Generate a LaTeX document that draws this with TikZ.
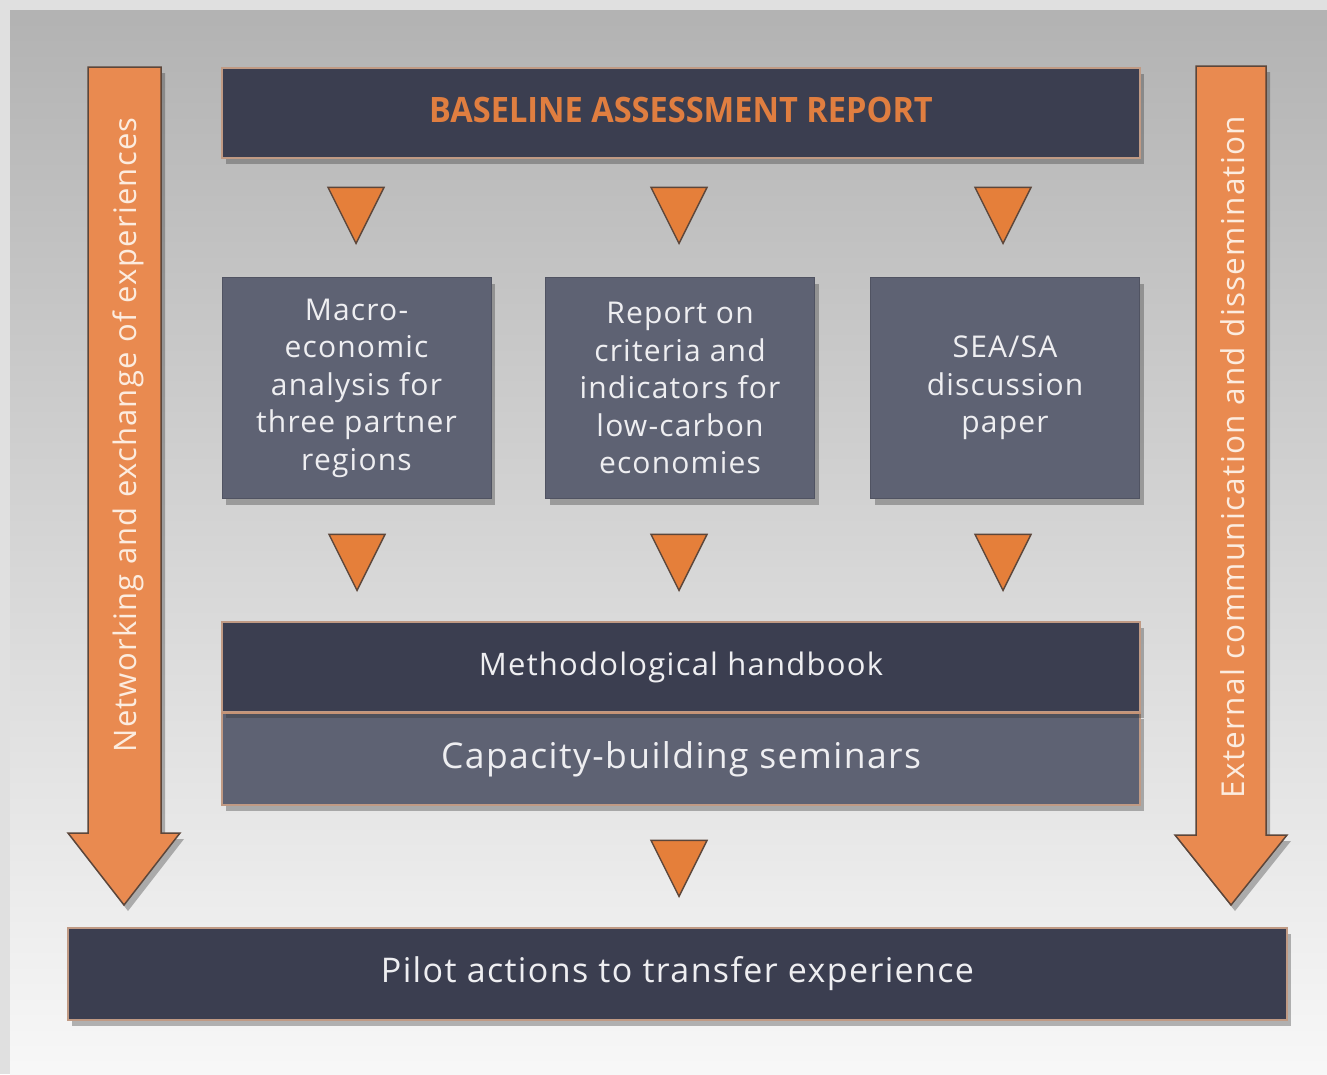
\documentclass[tikz,border=0pt]{standalone}
\usepackage{fontspec}
\setmainfont{Open Sans}[LetterSpace=4]
\newfontfamily\titlefont[FakeStretch=0.93]{Open Sans}
\usetikzlibrary{shapes.geometric,shadows}
\definecolor{navy}{HTML}{3B3E50}
\definecolor{slate}{HTML}{5E6273}
\definecolor{arroworange}{HTML}{E98A50}
\definecolor{triorange}{HTML}{E57F3A}
\definecolor{edgebrown}{HTML}{5C463A}
\definecolor{tanline}{HTML}{C09A84}
\definecolor{titleorange}{HTML}{E07E40}
\definecolor{textwhite}{HTML}{EEEEF1}
\definecolor{arrowtext}{HTML}{FCECDF}
\tikzset{
  shad/.style={drop shadow={shadow xshift=4pt, shadow yshift=-6pt, opacity=0.35, fill=black!80}},
  darkbar/.style={shad, fill=navy, draw=tanline, line width=1.5pt, text=textwhite, font=\fontsize{32}{38}\selectfont, inner sep=0pt},
  slatebox/.style={shad, fill=slate, draw=slate!85!black, line width=0.8pt, text=textwhite, minimum width=269pt, minimum height=221pt, align=center, font=\fontsize{30}{37.5}\selectfont, inner sep=0pt},
  tri/.style={isosceles triangle, isosceles triangle apex angle=53, isosceles triangle stretches, shape border rotate=270, fill=triorange, draw=edgebrown, line width=1.4pt, inner sep=0pt, minimum width=56pt, minimum height=56pt, anchor=apex},
  sidearrow/.style={shad, fill=arroworange, draw=edgebrown, line width=1.5pt, line join=miter},
  sidetext/.style={rotate=90, text=arrowtext, font=\fontsize{31}{36}\selectfont, inner sep=0pt}
}
\begin{document}
\begin{tikzpicture}[x=1pt,y=-1pt]
\useasboundingbox (0,0) rectangle (1327,1074);
\fill[black!12] (0,0) rectangle (1327,1074);
\shade[top color=black!30, middle color=black!19, bottom color=black!3] (10,10) rectangle (1327,1074);
% side arrows
\path[sidearrow] (88,67) -- (161,67) -- (161,833) -- (180,833) -- (124,905) -- (68,833) -- (88,833) -- cycle;
\node[sidetext] (lefttext) at (128,435) {Networking and exchange of experiences};
\path[sidearrow] (1196,66) -- (1266,66) -- (1266,835) -- (1287,835) -- (1231,905) -- (1175,835) -- (1196,835) -- cycle;
\node[sidetext, font=\fontsize{31.5}{36}\selectfont] (righttext) at (1233,457) {External communication and dissemination};
% top bar
\node[darkbar, minimum width=918pt, minimum height=90pt] (baseline) at (681,113) {};
\node[text=titleorange, font=\titlefont\bfseries\fontsize{35}{40}\selectfont, inner sep=0pt] (baselinetext) at (681,110) {BASELINE ASSESSMENT REPORT};
% triangles row 1
\node[tri] (t1) at (356,245) {};
\node[tri] (t2) at (679,245) {};
\node[tri] (t3) at (1003,245) {};
% boxes
\node[slatebox] (macro) at (356.5,388) {Macro-\\economic\\analysis for\\three partner\\regions};
\node[slatebox] (report) at (680,388) {Report on\\criteria and\\indicators for\\low-carbon\\economies};
\node[slatebox] (sea) at (1005,388) {SEA/SA\\discussion\\paper};
% triangles row 2
\node[tri] (t4) at (357,592) {};
\node[tri] (t5) at (679,592) {};
\node[tri] (t6) at (1003,592) {};
% handbook and seminars
\node[darkbar, fill=slate, minimum width=918pt, minimum height=92pt, font=\fontsize{35.5}{40}\selectfont] (seminars) at (681,759) {Capacity-building seminars};
\node[darkbar, minimum width=918pt, minimum height=90pt, drop shadow={opacity=0}, font=\fontsize{31}{36}\selectfont] (handbook) at (681,667) {Methodological handbook};
\draw[draw=tanline!80!titleorange, line width=2pt] (handbook.south west) -- (handbook.south east);
% triangle row 3
\node[tri] (t7) at (679,898) {};
% bottom bar
\node[darkbar, minimum width=1219pt, minimum height=92pt, font=\fontsize{34}{40}\selectfont] (pilot) at (677.5,974) {Pilot actions to transfer experience};
\end{tikzpicture}
\end{document}
